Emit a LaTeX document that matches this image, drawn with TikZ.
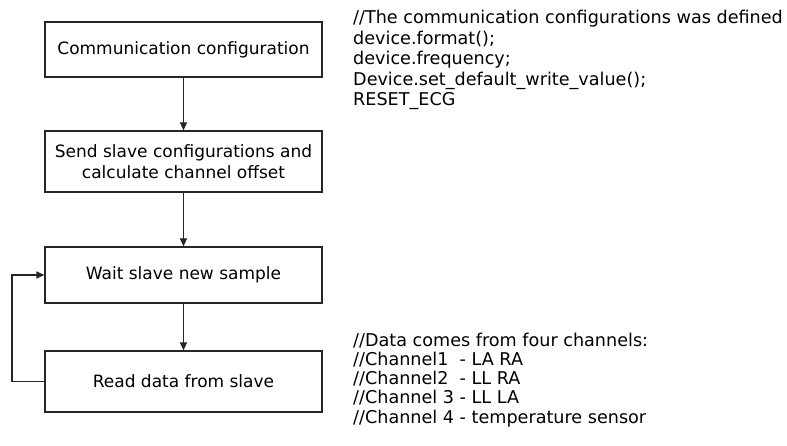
\documentclass[tikz,border=0pt]{standalone}
\usepackage{fontspec}
\setmainfont{DejaVu Sans}
\usetikzlibrary{arrows.meta}
\begin{document}
\begin{tikzpicture}[x=1pt,y=-1pt,
  stepbox/.style={draw=black!85, line width=1.2pt, minimum width=277pt, inner sep=0pt, align=center, font=\fontsize{17}{21}\selectfont},
  flow/.style={draw=black!85, line width=1.2pt, -{Triangle[length=8pt,width=7pt]}},
  codeline/.style={anchor=base west, inner sep=0pt, font=\fontsize{17.6}{20}\selectfont}]
\useasboundingbox (0,0) rectangle (787,446);
% process boxes
\node[stepbox, minimum height=55pt] (comm) at (183.5,49.5) {Communication configuration};
\node[stepbox, minimum height=61pt] (send) at (183.5,161.5) {Send slave configurations and\\calculate channel offset};
\node[stepbox, minimum height=56pt] (wait) at (183.5,275) {Wait slave new sample};
\node[stepbox, minimum height=61pt] (read) at (183.5,381.5) {Read data from slave};
% connectors
\draw[flow] (comm) -- (send);
\draw[flow] (send) -- (wait);
\draw[flow] (wait) -- (read);
\coordinate (loopb) at (12,381.5);
\coordinate (loopt) at (12,275);
\draw[flow] (read.west) -- (loopb) -- (loopt) -- (wait.west);
% code comments
\node[codeline] (c1) at (353,24) {//The communication configurations was defined};
\node[codeline] (c2) at (353,44.5) {device.format();};
\node[codeline] (c3) at (353,65) {device.frequency;};
\node[codeline] (c4) at (353,85.5) {Device.set\_default\_write\_value();};
\node[codeline] (c5) at (353,106) {RESET\_ECG};
\node[codeline] (d1) at (353,346) {//Data comes from four channels:};
\node[codeline] (d2) at (353,365.3) {//Channel1 \ - LA RA};
\node[codeline] (d3) at (353,384.6) {//Channel2 \ - LL RA};
\node[codeline] (d4) at (353,403.9) {//Channel 3 - LL LA};
\node[codeline] (d5) at (353,423.2) {//Channel 4 - temperature sensor};
\end{tikzpicture}
\end{document}
